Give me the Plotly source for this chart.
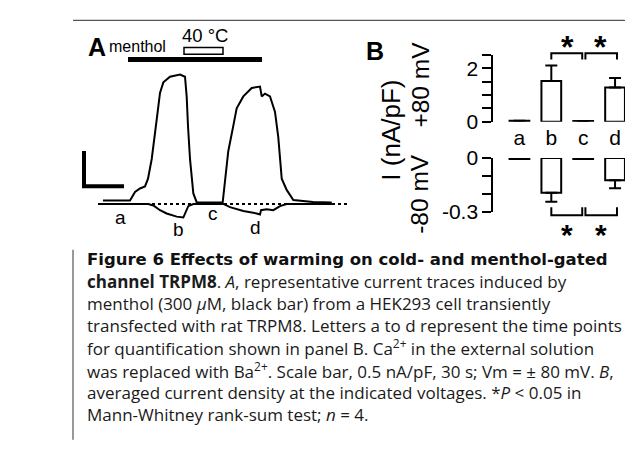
import plotly.graph_objects as go

W, H = 633, 467
OFF = 8                      # default page margin of the browser body
FW, FH = W - OFF, H - OFF    # figure size so that it fits the window


def fx(px):
    return (px - OFF) / FW


def fy(py):
    return 1 - (py - OFF) / FH


# ---------------- DATA ----------------
# Panel A: current traces (time in s, current density in nA/pF)
t_pos80 = [3.75, 24, 27.75, 31.5, 35.25, 37.5, 40.3, 42.75, 44.6, 46.5, 49, 54, 61.5, 65.25,
           66.5, 67.5, 69, 71.5, 74, 93.5, 95.25, 97.7, 101.25, 104, 109, 115.3, 121.5,
           122.8, 125.25, 129, 132.75, 135.2, 137.8, 141.5, 146.5, 161.25, 175.3]
i_pos80 = [0.05, 0.05, 0.17, 0.22, 0.25, 0.36, 0.64, 0.98, 1.29, 1.58, 1.73, 1.81, 1.84, 1.81,
           1.53, 1.11, 0.64, 0.15, 0.025, 0.02, 0.36, 0.75, 1.09, 1.36, 1.53, 1.65, 1.67,
           1.53, 1.57, 1.53, 1.31, 0.95, 0.36, 0.20, 0.057, 0.028, 0.02]
t_neg80 = [1.5, 37.7, 41.5, 46.5, 51.5, 59, 64, 66, 67.7, 71.5, 94, 99, 109, 119, 121.5,
           122.25, 126.5, 131.5, 136.5, 141.5, 176]
i_neg80 = [0, 0, -0.022, -0.089, -0.135, -0.18, -0.193, -0.112, -0.031, 0, 0, -0.045, -0.10,
           -0.135, -0.149, -0.089, -0.076, -0.089, -0.031, 0, 0]
zero_t = [0, 187.5]
menthol_on, menthol_off = 22.5, 123
warm_on, warm_off = 64.5, 93.75
point_labels = ["a", "b", "c", "d"]
point_times = [16.5, 60, 86.25, 117.75]
scale_current = 0.5   # nA/pF
scale_time = 30       # s

# Panel B: averaged current density
conds = ["a", "b", "c", "d"]
mean_pos = [0.03, 1.53, 0.02, 1.28]
sem_pos = [0, 0.58, 0, 0.36]
mean_neg = [-0.006, -0.194, -0.006, -0.124]
sem_neg = [0, 0.049, 0, 0.044]
pos_labels = [0, 2]
pos_label_text = ["0", "2"]
pos_minor_step = 0.5
neg_labels = [-0.3, 0]
neg_label_text = ["-0.3", "0"]
neg_minor_step = 0.1
sig_pairs = [(1, 2), (2, 3)]

caption_lines = [
    "<b>Figure 6 Effects of warming on cold- and menthol-gated</b>",
    "<b>channel TRPM8</b>. <i>A</i>, representative current traces induced by",
    "menthol (300 <i>μ</i>M, black bar) from a HEK293 cell transiently",
    "transfected with rat TRPM8. Letters a to d represent the time points",
    "for quantification shown in panel B. Ca<sup>2+</sup> in the external solution",
    "was replaced with Ba<sup>2+</sup>. Scale bar, 0.5 nA/pF, 30 s; Vm = ± 80 mV. <i>B</i>,",
    "averaged current density at the indicated voltages. *<i>P</i> &lt; 0.05 in",
    "Mann-Whitney rank-sum test; <i>n</i> = 4.",
]

# ---------------- FIGURE ----------------
PF = "Liberation Sans, Arial, sans-serif"
CF = "Open Sans, sans-serif"

fig = go.Figure()

# Panel A
fig.add_trace(go.Scatter(x=zero_t, y=[0, 0], mode="lines", line=dict(color="black", width=2, dash="dot"),
                         xaxis="x", yaxis="y", hoverinfo="skip"))
fig.add_trace(go.Scatter(x=t_pos80, y=i_pos80, mode="lines", line=dict(color="black", width=2),
                         xaxis="x", yaxis="y"))
fig.add_trace(go.Scatter(x=t_neg80, y=i_neg80, mode="lines", line=dict(color="black", width=2),
                         xaxis="x", yaxis="y"))
sb_t0, sb_i0 = -10.5, 0.253
fig.add_trace(go.Scatter(x=[sb_t0, sb_t0, sb_t0 + scale_time], y=[sb_i0 + scale_current, sb_i0, sb_i0],
                         mode="lines", line=dict(color="black", width=4), xaxis="x", yaxis="y"))

# Panel B
xb = list(range(len(conds)))
fig.add_trace(go.Bar(x=xb, y=mean_pos, width=0.62, marker=dict(color="white", line=dict(color="black", width=2)),
                     error_y=dict(type="data", array=sem_pos, arrayminus=[0] * 4, symmetric=False,
                                  color="black", thickness=2, width=6),
                     xaxis="x2", yaxis="y2"))
fig.add_trace(go.Bar(x=xb, y=mean_neg, width=0.62, marker=dict(color="white", line=dict(color="black", width=2)),
                     error_y=dict(type="data", array=[0] * 4, arrayminus=sem_neg, symmetric=False,
                                  color="black", thickness=2, width=6),
                     xaxis="x3", yaxis="y3"))

xb_range = [-0.82, 3.5]
xb_dom = [fx(493.3), fx(631)]
tick_style = dict(showline=True, linewidth=2, linecolor="black", ticks="outside", ticklen=9, tickwidth=2,
                  tickcolor="black", showgrid=False, zeroline=False,
                  tickfont=dict(family=PF, size=21, color="black"))
fig.update_layout(
    width=FW, height=FH, margin=dict(l=0, r=0, t=0, b=0),
    paper_bgcolor="white", plot_bgcolor="rgba(0,0,0,0)", showlegend=False,
    xaxis=dict(domain=[fx(80), fx(360)], range=[-13.5, 196.5], visible=False),
    yaxis=dict(domain=[fy(240), fy(10)], range=[-0.518, 2.59], visible=False),
    xaxis2=dict(domain=xb_dom, range=xb_range, anchor="y2", showline=False, ticks="",
                tickvals=xb, ticktext=conds, showticklabels=True,
                tickfont=dict(family=PF, size=21, color="black"),
                showgrid=False, zeroline=False, ticklabelstandoff=1),
    yaxis2=dict(domain=[fy(115), fy(45)], range=[0, 2.5], anchor="x2",
                tickvals=pos_labels, ticktext=pos_label_text,
                minor=dict(ticks="outside", ticklen=9, tickwidth=2, tickcolor="black",
                           tick0=0, dtick=pos_minor_step, showgrid=False),
                **tick_style),
    xaxis3=dict(domain=xb_dom, range=xb_range, anchor="y3", visible=False),
    yaxis3=dict(domain=[fy(210), fy(153.3)], range=[-0.3, 0], anchor="x3",
                tickvals=neg_labels, ticktext=neg_label_text,
                minor=dict(ticks="outside", ticklen=9, tickwidth=2, tickcolor="black",
                           tick0=0, dtick=neg_minor_step, showgrid=False),
                **tick_style),
)

shapes = []
# stimulus bars
shapes.append(dict(type="rect", xref="x", yref="y", x0=menthol_on, x1=menthol_off, y0=2.02, y1=2.09,
                   fillcolor="black", line=dict(width=0)))
shapes.append(dict(type="rect", xref="x", yref="y", x0=warm_on, x1=warm_off, y0=2.13, y1=2.225,
                   fillcolor="white", line=dict(color="black", width=1.5)))
# significance brackets (x in data units, y in page units so they are not clipped)
for i0, i1 in sig_pairs:
    x0 = i0 + (0.0 if i0 == 1 else 0.07)
    x1 = i1 - (0.03 if i1 == 2 else -0.06)
    shapes.append(dict(type="path", xref="x2", yref="paper",
                       path=f"M {x0},{fy(49.5)} L {x0},{fy(43)} L {x1},{fy(43)} L {x1},{fy(49.5)}",
                       line=dict(color="black", width=2)))
    shapes.append(dict(type="path", xref="x3", yref="paper",
                       path=f"M {x0},{fy(205)} L {x0},{fy(213.5)} L {x1},{fy(213.5)} L {x1},{fy(205)}",
                       line=dict(color="black", width=2)))
# frame
shapes.append(dict(type="path", xref="paper", yref="paper",
                   path=f"M {fx(73)},{fy(8.5)} L {fx(624)},{fy(8.5)} Q {fx(631)},{fy(8.5)} {fx(631)},{fy(15)}",
                   line=dict(color="#555", width=1.2)))
shapes.append(dict(type="line", xref="paper", yref="paper", x0=fx(73), x1=fx(73), y0=fy(250), y1=fy(450),
                   line=dict(color="#555", width=1.2)))
fig.update_layout(shapes=shapes)

ann = []


def txt(x, y, s, size, bold=False, xref="paper", yref="paper", xanchor="center", angle=0, family=PF,
        color="black"):
    ann.append(dict(x=x, y=y, xref=xref, yref=yref, text=(f"<b>{s}</b>" if bold else s), showarrow=False,
                    xanchor=xanchor, yanchor="middle", textangle=angle,
                    font=dict(family=family, size=size, color=color)))


txt(fx(97), fy(36), "A", 25, bold=True)
txt(fx(137), fy(36), "menthol", 16)
txt(fx(205), fy(24), "40 °C", 18.5)
label_y = [216, 229, 212, 226]
for lab, t, yy in zip(point_labels, point_times, label_y):
    txt(t, fy(yy), lab, 19, xref="x")

txt(fx(375), fy(41), "B", 25, bold=True)
txt(fx(391), fy(124.5), "I (nA/pF)", 26, angle=-90)
txt(fx(421), fy(76), "+80 mV", 24.5, angle=-90)
txt(fx(420), fy(191), "-80 mV", 24.5, angle=-90)
for xs in [1.5, 2.55]:
    txt(xs, fy(36), "*", 32, bold=True, xref="x2")
    txt(xs, fy(234), "*", 30, bold=True, xref="x3")

y0, dy = 260, 23.3
for k, line in enumerate(caption_lines):
    if k == 0:
        txt(fx(85), fy(y0), line, 16.5, xanchor="left", family="DejaVu Sans, sans-serif", color="#111")
    else:
        txt(fx(85), fy(y0 + k * dy), line, 17, xanchor="left", family=CF, color="#1a1a1a")

fig.update_layout(annotations=ann)
fig.write_html("out.html")
